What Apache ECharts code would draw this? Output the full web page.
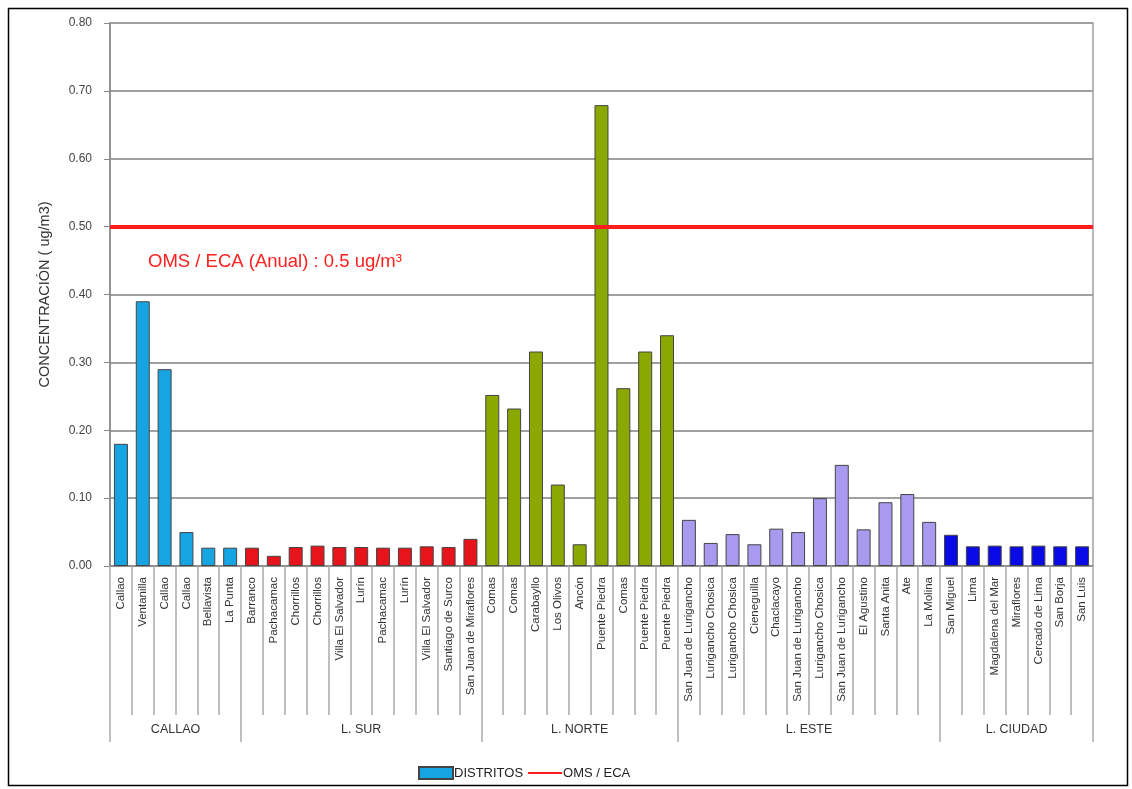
<!DOCTYPE html>
<html>
<head>
<meta charset="utf-8">
<script src="https://cdn.jsdelivr.net/npm/echarts@6/dist/echarts.min.js"></script>
<style>
  html, body { margin: 0; padding: 0; background: #fff; }
  #chart { width: 1132px; height: 789px; }
</style>
</head>
<body>
<div id="chart"></div>
<script>
// Monitoring stations (districts), in zone order
const districts = [
  'Callao', 'Ventanilla', 'Callao', 'Callao', 'Bellavista', 'La Punta',
  'Barranco', 'Pachacamac', 'Chorrillos', 'Chorrillos', 'Villa El Salvador', 'Lurín',
  'Pachacamac', 'Lurín', 'Villa El Salvador', 'Santiago de Surco', 'San Juan de Miraflores',
  'Comas', 'Comas', 'Carabayllo', 'Los Olivos', 'Ancón', 'Puente Piedra', 'Comas',
  'Puente Piedra', 'Puente Piedra',
  'San Juan de Lurigancho', 'Lurigancho Chosica', 'Lurigancho Chosica', 'Cieneguilla',
  'Chaclacayo', 'San Juan de Lurigancho', 'Lurigancho Chosica', 'San Juan de Lurigancho',
  'El Agustino', 'Santa Anita', 'Ate', 'La Molina',
  'San Miguel', 'Lima', 'Magdalena del Mar', 'Miraflores', 'Cercado de Lima', 'San Borja', 'San Luis'
];

// Annual concentration (ug/m3) per station
const concentration = [
  0.18, 0.39, 0.29, 0.05, 0.027, 0.027,
  0.027, 0.015, 0.028, 0.030, 0.028, 0.028, 0.027, 0.027, 0.029, 0.028, 0.040,
  0.252, 0.232, 0.316, 0.120, 0.032, 0.679, 0.262, 0.316, 0.340,
  0.068, 0.034, 0.047, 0.032, 0.055, 0.050, 0.100, 0.149, 0.054, 0.094, 0.106, 0.065,
  0.046, 0.029, 0.030, 0.029, 0.030, 0.029, 0.029
];

// Zones and how many stations each one holds
const zoneNames = ['CALLAO', 'L. SUR', 'L. NORTE', 'L. ESTE', 'L. CIUDAD'];
const zoneSizes = [6, 11, 9, 12, 7];

// WHO / ECA annual limit
const limitValue = 0.5;

const zoneColors = ['#16a4e2', '#e8141c', '#8aa800', '#a99af0', '#0a0ae6'];

// zone boundaries (in category units) and zone midpoints
const zoneBounds = [0];
zoneSizes.forEach(function (n, i) { zoneBounds.push(zoneBounds[i] + n); });
const zoneMids = zoneSizes.map(function (n, i) { return zoneBounds[i] + n / 2; });

const zoneOf = [];
zoneSizes.forEach(function (n, i) { for (let k = 0; k < n; k++) zoneOf.push(i); });

const barData = concentration.map(function (v, i) {
  return { value: v, itemStyle: { color: zoneColors[zoneOf[i]] } };
});

const chart = echarts.init(document.getElementById('chart'));
const font = 'Liberation Sans, Arial, sans-serif';

chart.setOption({
  animation: false,
  backgroundColor: '#fff',
  textStyle: { fontFamily: font },
  grid: {
    left: 110, right: 39, top: 23, bottom: 223,
    show: true, borderColor: '#a0a0a0', borderWidth: 1.5, backgroundColor: 'transparent'
  },
  legend: {
    left: 413, top: 761,
    itemWidth: 34, itemHeight: 12, itemGap: 4,
    textStyle: { fontFamily: font, fontSize: 13, color: '#222', padding: [0, 0, 0, -4] },
    data: [
      { name: 'DISTRITOS', icon: 'rect' },
      { name: 'OMS / ECA', itemStyle: { opacity: 0 } }
    ]
  },
  xAxis: [
    {
      type: 'category',
      data: districts,
      position: 'bottom',
      axisLine: { lineStyle: { color: '#888', width: 1.5 } },
      axisTick: { show: true, interval: 0, alignWithLabel: false, length: 149, lineStyle: { color: '#aaa', width: 1.5 } },
      axisLabel: { interval: 0, rotate: 90, fontSize: 11.5, color: '#333', margin: 11, fontFamily: font },
      splitLine: { show: false }
    },
    {
      type: 'value',
      min: 0, max: districts.length,
      position: 'bottom',
      axisLine: { show: false },
      axisTick: { show: true, inside: false, length: 176, customValues: zoneBounds, lineStyle: { color: '#aaa', width: 1.5 } },
      axisLabel: {
        customValues: zoneMids, margin: 157, fontSize: 12.5, color: '#333', fontFamily: font,
        formatter: function (v) { return zoneNames[zoneMids.indexOf(v)] || ''; }
      },
      splitLine: { show: false }
    }
  ],
  yAxis: {
    type: 'value',
    min: 0, max: 0.8, interval: 0.1,
    name: 'CONCENTRACIÓN ( ug/m3)',
    nameLocation: 'middle',
    nameGap: 58,
    nameTextStyle: { fontSize: 14.5, color: '#333', fontFamily: font },
    axisLine: { show: true, lineStyle: { color: '#888', width: 1.5 } },
    axisTick: { show: true, length: 6, lineStyle: { color: '#888' } },
    axisLabel: { fontSize: 12, color: '#444', margin: 18, formatter: function (v) { return v.toFixed(2); } },
    splitLine: { show: true, lineStyle: { color: '#a0a0a0', width: 2 } }
  },
  series: [
    {
      name: 'DISTRITOS',
      type: 'bar',
      data: barData,
      barCategoryGap: '36%',
      itemStyle: { color: zoneColors[0], borderColor: '#444', borderWidth: 1 }
    },
    {
      name: 'OMS / ECA',
      type: 'line',
      symbol: 'none',
      data: [],
      itemStyle: { color: '#ff1c1c' },
      lineStyle: { color: '#ff1c1c', width: 4 },
      markLine: {
        silent: true,
        symbol: 'none',
        label: { show: false },
        lineStyle: { color: '#ff1c1c', width: 4, type: 'solid' },
        data: [{ yAxis: limitValue }]
      }
    }
  ],
  graphic: [
    {
      type: 'text', left: 148, top: 252,
      style: { text: 'OMS / ECA (Anual) : 0.5 ug/m³', fill: '#ff2020', font: '18.5px ' + font }
    },
    {
      type: 'rect', left: 6, top: 6,
      shape: { width: 1119, height: 777 },
      style: { fill: 'none', stroke: '#000', lineWidth: 1.5 }
    }
  ]
});
</script>
</body>
</html>
